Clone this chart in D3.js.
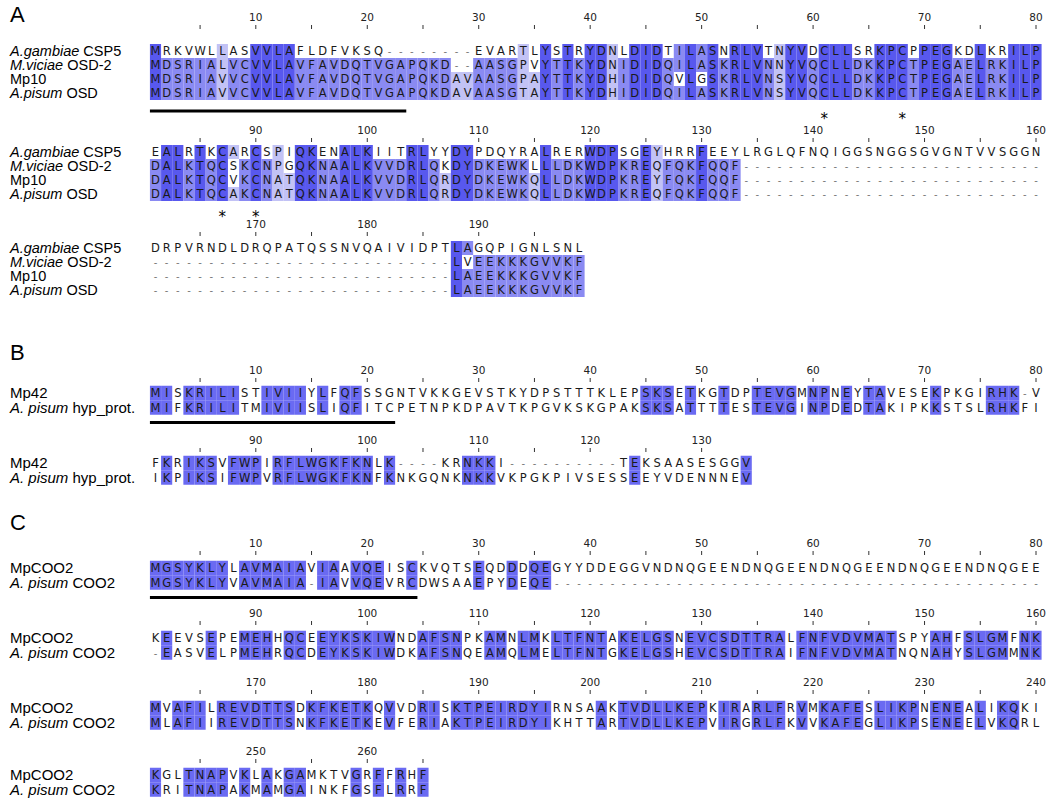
<!DOCTYPE html>
<html><head><meta charset="utf-8">
<script src="https://cdn.jsdelivr.net/npm/d3@7"></script>
<style>body{margin:0;background:#fff}</style></head>
<body><svg id="c" width="1052" height="800"></svg>
<script>
// ---------- DATA ----------
const namesA = [[["A.gambiae",1],[" CSP5",0]],[["M.viciae",1],[" OSD-2",0]],[["Mp10",0]],[["A.pisum",1],[" OSD",0]]];
const seqsA = [
 "MRKVWLLASVVLAFLDFVKSQ--------EVARTLYSTRYDNLDIDTILASNRLVTNYVDCLLSRKPCPPEGKDLKRILP"+"EALRTKCARCSPIQKENALKIITRLYYDYPDQYRALRERWDPSGEYHRRFEEYLRGLQFNQIGGSNGGSGVGNTVVSGGN"+"DRPVRNDLDRQPATQSSNVQAIVIDPTLAGQPIGNLSNL",
 "MDSRIALVCVVLAVFAVDQTVGAPQKD--AASGPVYTTKYDNIDIDQILASKRLVNNYVQCLLDKKPCTPEGAELRKILP"+"DALKTQCSKCNPGQKNAALKVVDRLQKDYDKEWKLLLDKWDPKREQFQKFQQF---------------------------"+"---------------------------LVEEKKKGVVKF",
 "MDSRIAVVCVVLAVFAVDQTVGAPQKDAVAASGPAYTTKYDHIDIDQVLGSKRLVNSYVQCLLDKKPCTPEGAELRKILP"+"DALKTQCVKCNATQKNAALKVVDRLQRDYDKEWKQLLDKWDPKREYFQKFQQF---------------------------"+"---------------------------LAEEKKKGVVKF",
 "MDSRIAVVCVVLAVFAVDQTVGAPQKDAVAASGTAYTTKYDHIDIDQILASKRLVNSYVQCLLDKKPCTPEGAELRKILP"+"DALKTQCAKCNATQKNAALKVVDRLQRDYDKEWKQLLDKWDPKREQFQKFQQF---------------------------"+"---------------------------LAEEKKKGVVKF"];
const starsA = [61, 68, 87, 90];
const namesB = [[["Mp42",0]],[["A. pisum",1],[" hyp_prot.",0]]];
const seqsB = [
 "MISKRILISTIVIIYLFQFSSGNTVKKGEVSTKYDPSTTTKLEPSKSETKGTDPTEVGMNPNEYTAVESEKPKGIRHK-V"+"FKRIKSVFWPIRFLWGKFKNLK----KRNKKI----------TEKSAASESGGV",
 "MIFKRILITMIVIISLIQFITCPETNPKDPAVTKPGVKSKGPAKSKSATTTTESTEVGINPDEDTAKIPKKSTSLRHKFI"+"IKPIKSIFWPVRFLWGKFKNFKNKGQNKNKKVKPGKPIVSESSEEYVDENNNEV"];
const namesC = [[["MpCOO2",0]],[["A. pisum",1],[" COO2",0]]];
const seqsC = [
 "MGSYKLYLAVMAIAVIAAVQEISCKVQTSEQDDDQEGYYDDEGGVNDNQGEENDNQGEENDNQGEENDNQGEENDNQGEE"+"KEEVSEPEMEHHQCEEYKSKIWNDAFSNPKAMNLMKLTFNTAKELGSNEVCSDTTRALFNFVDVMATSPYAHFSLGMFNK"+"MVAFILREVDTTSDKFKETKQVVDRISKTPEIRDYIRNSAAKTVDLLKEPKIRARLFRVMKAFESLIKPNENEALIKQKI"+"KGLTNAPVKLAKGAMKTVGRFFRHF",
 "MGSYKLYVAVMAIA-IAVVQEVRCDWSAAEPYDEQE--------------------------------------------"+"-EASVELPMEHRQCDEYKSKIWDKAFSNQEAMQLMELTFNTGKELGSHEVCSDTTRAIFNFVDVMATNQNAHYSLGMMNK"+"MLAFIIREVDTTSNKFKETKEVFERIAKTPEIRDYIKHTTARTVDLLKEPVIRGRLFKVVKAFEGLIKPSENEELVKQRL"+"KRITNAPAKMAMGAINKFGSFLRRF"];
const underlineCols = {A:23, B:22, C:24};

// ---------- RENDER ----------
const svg = d3.select("#c");
const perRow = 80;
const x = d3.scaleLinear().domain([1, perRow]).range([155.5, 1036]);
const cw = (x(perRow) - x(1)) / (perRow - 1);
const colorA = d3.scaleThreshold().domain([0.41, 0.61, 0.81]).range([null, "#c2c2f5", "#8a8af2", "#5858ee"]);
const colorBC = "#6a6af2";

function counts(seqs, i) {
  const cnt = {};
  seqs.forEach(s => { const c = s[i]; if (c && c !== "-") cnt[c] = (cnt[c] || 0) + 1; });
  return cnt;
}

function panel(label, labelY, names, seqs, blocks, rowH, multi, stars, ul, nameSize) {
  svg.append("text").attr("x", 10).attr("y", labelY).attr("font-family", "Liberation Sans, Arial").attr("font-size", 22).text(label);
  const len = d3.max(seqs, s => s.length);
  blocks.forEach((b, bi) => {
    const start = bi * perRow;
    const end = Math.min(len, start + perRow);
    const g = svg.append("g");
    for (let p = start + 1; p <= end; p++) {
      const col = p - start;
      if (p % 10 === 0) {
        g.append("text").attr("x", x(col)).attr("y", b.num).attr("text-anchor", "middle")
          .attr("font-family", "DejaVu Sans, sans-serif").attr("font-size", 10.5).attr("fill", "#222").text(p);
      }
      if (p % 5 === 0) {
        g.append("line").attr("x1", x(col)).attr("x2", x(col)).attr("y1", b.num + 4).attr("y2", b.num + 8)
          .attr("stroke", "#333").attr("stroke-width", 1);
      }
    }
    seqs.forEach((s, si) => {
      const yy = b.rows[0] + si * rowH;
      const t = g.append("text").attr("x", 10).attr("y", yy + 5).attr("font-family", "Liberation Sans, Arial").attr("font-size", nameSize);
      names[si].forEach(([txt, it]) => t.append("tspan").attr("font-style", it ? "italic" : "normal").text(txt));
      for (let i = start; i < Math.min(s.length, end); i++) {
        const c = s[i], col = i - start + 1;
        if (c !== "-") {
          const cnt = counts(seqs, i);
          const frac = (cnt[c] || 0) / seqs.length;
          let fill = null;
          if (multi) fill = colorA(frac); else if (frac === 1) fill = colorBC;
          if (fill) g.append("rect").attr("x", x(col) - cw / 2).attr("y", yy - rowH / 2).attr("width", cw).attr("height", rowH).attr("fill", fill);
        }
      }
      for (let i = start; i < Math.min(s.length, end); i++) {
        const c = s[i], col = i - start + 1;
        g.append("text").attr("x", x(col)).attr("y", yy + 4).attr("text-anchor", "middle")
          .attr("font-family", "DejaVu Sans, sans-serif").attr("font-size", c === "-" ? 10 : 11.5)
          .attr("fill", c === "-" ? "#777" : "#1a1a1a").text(c);
      }
    });
    if (bi === 0 && ul) {
      const uy = b.rows[0] + (seqs.length - 1) * rowH + b.ulOff;
      g.append("line").attr("x1", x(1) - cw / 2).attr("x2", x(ul) + cw / 2).attr("y1", uy).attr("y2", uy).attr("stroke", "#000").attr("stroke-width", 3);
    }
    if (stars) {
      stars.filter(p => p > start && p <= end).forEach(p => {
        g.append("text").attr("x", x(p - start)).attr("y", b.star).attr("text-anchor", "middle")
          .attr("font-family", "DejaVu Sans").attr("font-size", 15).text("*");
      });
    }
  });
}

panel("A", 22, namesA, seqsA, [
  {num: 21, rows: [51], ulOff: 18, star: 124},
  {num: 134, rows: [152], star: 222},
  {num: 228, rows: [248]}], 14, true, starsA, underlineCols.A, 14.5);
panel("B", 360, namesB, seqsB, [
  {num: 374, rows: [393], ulOff: 15},
  {num: 444, rows: [463]}], 14.5, false, null, underlineCols.B, 15);
panel("C", 530, namesC, seqsC, [
  {num: 547, rows: [568], ulOff: 15},
  {num: 617, rows: [638]},
  {num: 686, rows: [708]},
  {num: 755, rows: [775]}], 14.5, false, null, underlineCols.C, 15);
</script></body></html>
